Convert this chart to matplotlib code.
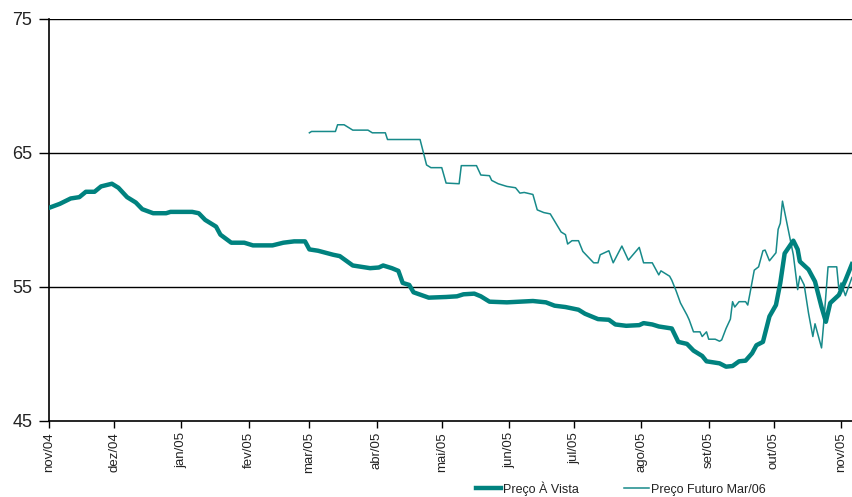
import pandas as pd
import matplotlib.pyplot as plt

# Preço à vista (thick line)
vista_datas = ['2004-11-01', '2004-11-06', '2004-11-11', '2004-11-15', '2004-11-18', '2004-11-22',
               '2004-11-25', '2004-11-30', '2004-12-03', '2004-12-07', '2004-12-11', '2004-12-14',
               '2004-12-19', '2004-12-25', '2004-12-27', '2005-01-06', '2005-01-09', '2005-01-12',
               '2005-01-17', '2005-01-19', '2005-01-24', '2005-01-30', '2005-02-03', '2005-02-12',
               '2005-02-17', '2005-02-22', '2005-02-27', '2005-03-01', '2005-03-05', '2005-03-12',
               '2005-03-15', '2005-03-21', '2005-03-29', '2005-04-02', '2005-04-04', '2005-04-08',
               '2005-04-11', '2005-04-13', '2005-04-16', '2005-04-18', '2005-04-25', '2005-05-03',
               '2005-05-08', '2005-05-11', '2005-05-16', '2005-05-19', '2005-05-23', '2005-05-31',
               '2005-06-12', '2005-06-18', '2005-06-22', '2005-06-27', '2005-07-03', '2005-07-06',
               '2005-07-12', '2005-07-17', '2005-07-20', '2005-07-25', '2005-07-31', '2005-08-02',
               '2005-08-06', '2005-08-09', '2005-08-15', '2005-08-18', '2005-08-22', '2005-08-25',
               '2005-08-29', '2005-08-31', '2005-09-06', '2005-09-09', '2005-09-12', '2005-09-15',
               '2005-09-18', '2005-09-21', '2005-09-23', '2005-09-26', '2005-09-29', '2005-10-02',
               '2005-10-04', '2005-10-06', '2005-10-10', '2005-10-12', '2005-10-13', '2005-10-17',
               '2005-10-20', '2005-10-23', '2005-10-25', '2005-10-27', '2005-10-31', '2005-11-03',
               '2005-11-06']
vista = [60.9, 61.2, 61.6, 61.7, 62.1, 62.1,
         62.5, 62.7, 62.4, 61.7, 61.3, 60.8,
         60.5, 60.5, 60.6, 60.6, 60.5, 60.0,
         59.5, 58.9, 58.3, 58.3, 58.1, 58.1,
         58.3, 58.4, 58.4, 57.8, 57.7, 57.4,
         57.3, 56.6, 56.4, 56.45, 56.6, 56.4,
         56.2, 55.3, 55.15, 54.6, 54.2, 54.25,
         54.3, 54.45, 54.5, 54.3, 53.9, 53.85,
         53.95, 53.85, 53.6, 53.5, 53.3, 53.0,
         52.6, 52.55, 52.2, 52.1, 52.15, 52.3,
         52.2, 52.05, 51.9, 50.9, 50.75, 50.25,
         49.85, 49.45, 49.3, 49.05, 49.1, 49.45,
         49.5, 50.05, 50.65, 50.9, 52.8, 53.65,
         55.3, 57.5, 58.45, 57.8, 56.9, 56.3,
         55.4, 53.5, 52.4, 53.8, 54.4, 55.5,
         56.7]

# Preço futuro Mar/06 (thin line)
futuro_datas = ['2005-03-01', '2005-03-02', '2005-03-13', '2005-03-14', '2005-03-17', '2005-03-21',
                '2005-03-28', '2005-03-30', '2005-04-05', '2005-04-06', '2005-04-21', '2005-04-24',
                '2005-04-26', '2005-05-01', '2005-05-03', '2005-05-09', '2005-05-10', '2005-05-17',
                '2005-05-19', '2005-05-23', '2005-05-24', '2005-05-27', '2005-05-31', '2005-06-04',
                '2005-06-06', '2005-06-08', '2005-06-12', '2005-06-14', '2005-06-17', '2005-06-20',
                '2005-06-25', '2005-06-27', '2005-06-28', '2005-06-30', '2005-07-03', '2005-07-05',
                '2005-07-10', '2005-07-12', '2005-07-13', '2005-07-17', '2005-07-19', '2005-07-23',
                '2005-07-26', '2005-07-31', '2005-08-02', '2005-08-06', '2005-08-09', '2005-08-10',
                '2005-08-14', '2005-08-15', '2005-08-17', '2005-08-19', '2005-08-22', '2005-08-23',
                '2005-08-25', '2005-08-28', '2005-08-29', '2005-08-31', '2005-09-01', '2005-09-04',
                '2005-09-06', '2005-09-07', '2005-09-09', '2005-09-11', '2005-09-12', '2005-09-13',
                '2005-09-15', '2005-09-18', '2005-09-19', '2005-09-20', '2005-09-22', '2005-09-24',
                '2005-09-26', '2005-09-27', '2005-09-29', '2005-10-02', '2005-10-03', '2005-10-04',
                '2005-10-05', '2005-10-08', '2005-10-10', '2005-10-12', '2005-10-13', '2005-10-15',
                '2005-10-17', '2005-10-19', '2005-10-20', '2005-10-23', '2005-10-24', '2005-10-26',
                '2005-10-30', '2005-10-31', '2005-11-01', '2005-11-03', '2005-11-06']
futuro = [66.5, 66.6, 66.6, 67.1, 67.1, 66.7,
          66.7, 66.5, 66.5, 66.0, 66.0, 64.1,
          63.9, 63.9, 62.75, 62.7, 64.05, 64.05,
          63.35, 63.3, 62.95, 62.7, 62.5, 62.4,
          62.0, 62.05, 61.9, 60.75, 60.55, 60.45,
          59.1, 58.9, 58.2, 58.45, 58.45, 57.65,
          56.8, 56.8, 57.4, 57.7, 56.8, 58.05,
          57.0, 57.95, 56.8, 56.8, 55.9, 56.2,
          55.8, 55.5, 54.7, 53.8, 52.9, 52.55,
          51.65, 51.65, 51.3, 51.65, 51.1, 51.1,
          50.95, 51.05, 51.9, 52.6, 53.9, 53.5,
          53.9, 53.9, 53.65, 54.5, 56.25, 56.5,
          57.7, 57.75, 56.95, 57.55, 59.3, 59.75,
          61.4, 59.0, 57.4, 54.8, 55.8, 55.15,
          53.05, 51.3, 52.25, 50.45, 52.3, 56.5,
          56.5, 54.8, 55.3, 54.35, 55.7]

meses = ['nov/04', 'dez/04', 'jan/05', 'fev/05', 'mar/05', 'abr/05', 'mai/05',
         'jun/05', 'jul/05', 'ago/05', 'set/05', 'out/05', 'nov/05']
ticks_y = [45, 55, 65, 75]

cor = '#00827f'
plt.rcParams['font.family'] = ['Liberation Sans Narrow', 'Liberation Sans', 'DejaVu Sans']

fig = plt.figure(figsize=(8.53, 4.97), dpi=100)
ax = fig.add_axes([0.0574, 0.153, 0.9426, 0.809])

ax.plot(pd.to_datetime(vista_datas), vista, color=cor, lw=3.2,
        solid_joinstyle='round', label='Preço À Vista', zorder=3)
ax.plot(pd.to_datetime(futuro_datas), futuro, color='#178a8a', lw=1.1,
        label='Preço Futuro Mar/06', zorder=2)

ax.set_ylim(45, 75)
ax.set_yticks(ticks_y)
ax.set_xlim(pd.Timestamp('2004-11-01'), pd.Timestamp('2005-11-06 12:00'))
posicoes = pd.date_range('2004-11-01', '2005-11-01', freq='MS')
ax.set_xticks(posicoes)
ax.set_xticklabels(meses, rotation=90)

for v in ticks_y[1:]:
    ax.axhline(v, color='black', lw=1.0, zorder=1)

for s in ['top', 'right']:
    ax.spines[s].set_visible(False)
ax.spines['left'].set_linewidth(1.2)
ax.spines['bottom'].set_linewidth(1.2)
ax.tick_params(axis='y', length=7, width=1, labelsize=13, pad=5, labelcolor='#222222')
ax.tick_params(axis='x', length=5, width=1, labelsize=9.5, pad=3, labelcolor='#222222')

fig.legend(loc='lower left', bbox_to_anchor=(0.556, 0.0), ncol=2, frameon=False,
           fontsize=9, handlelength=2.0, handletextpad=0.2, columnspacing=3.6,
           borderaxespad=0.0, borderpad=0.1, labelcolor='#222222')

fig.savefig('out.png', dpi=100)
